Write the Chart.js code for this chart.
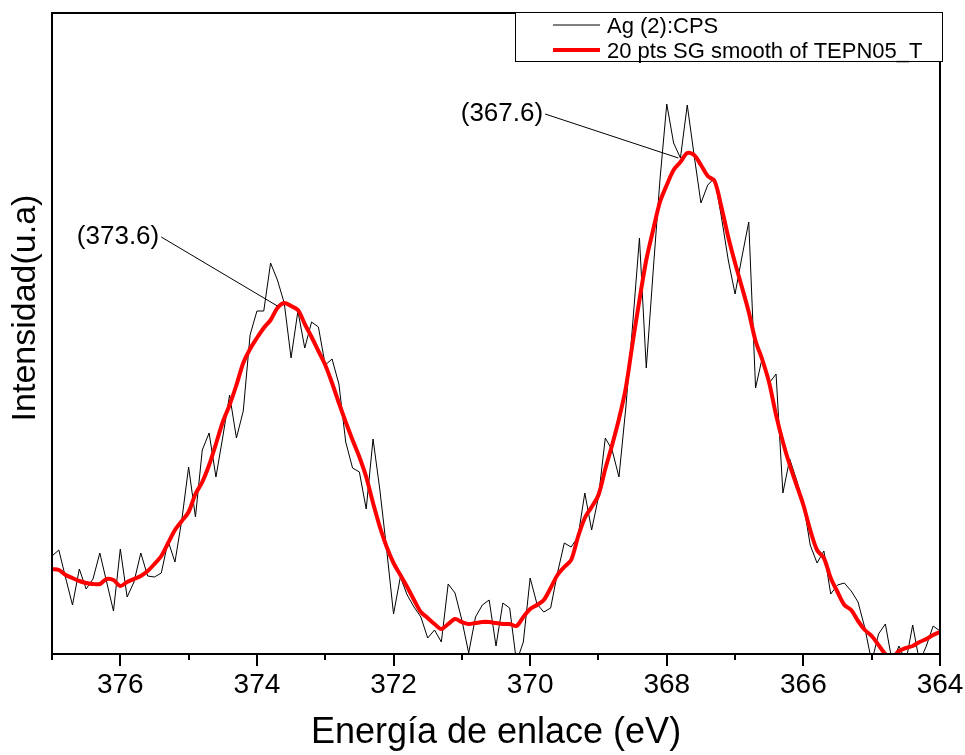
<!DOCTYPE html>
<html>
<head>
<meta charset="utf-8">
<script src="https://cdn.jsdelivr.net/npm/chart.js@4.4.1/dist/chart.umd.min.js"></script>
<style>
  html, body { margin: 0; padding: 0; background: #fff; }
</style>
</head>
<body>
<canvas id="grafico" width="965" height="755"></canvas>
<script>
// energia de enlace (eV), paso 0.1
var energia = [
  377.0, 376.9, 376.8, 376.7, 376.6, 376.5, 376.4, 376.3, 376.2, 376.1,
  376.0, 375.9, 375.8, 375.7, 375.6, 375.5, 375.4, 375.3, 375.2, 375.1,
  375.0, 374.9, 374.8, 374.7, 374.6, 374.5, 374.4, 374.3, 374.2, 374.1,
  374.0, 373.9, 373.8, 373.7, 373.6, 373.5, 373.4, 373.3, 373.2, 373.1,
  373.0, 372.9, 372.8, 372.7, 372.6, 372.5, 372.4, 372.3, 372.2, 372.1,
  372.0, 371.9, 371.8, 371.7, 371.6, 371.5, 371.4, 371.3, 371.2, 371.1,
  371.0, 370.9, 370.8, 370.7, 370.6, 370.5, 370.4, 370.3, 370.2, 370.1,
  370.0, 369.9, 369.8, 369.7, 369.6, 369.5, 369.4, 369.3, 369.2, 369.1,
  369.0, 368.9, 368.8, 368.7, 368.6, 368.5, 368.4, 368.3, 368.2, 368.1,
  368.0, 367.9, 367.8, 367.7, 367.6, 367.5, 367.4, 367.3, 367.2, 367.1,
  367.0, 366.9, 366.8, 366.7, 366.6, 366.5, 366.4, 366.3, 366.2, 366.1,
  366.0, 365.9, 365.8, 365.7, 365.6, 365.5, 365.4, 365.3, 365.2, 365.1,
  365.0, 364.9, 364.8, 364.7, 364.6, 364.5, 364.4, 364.3, 364.2, 364.1,
  364.0
];

// Ag (2):CPS (u.a.)
var cps = [
   98, 104,  76,  49,  85,  65,  75, 101,  72,  43,
  105,  57,  72, 101,  78,  77,  81, 113,  92, 134,
  187, 137, 204, 221, 177, 217, 259, 216, 243, 319,
  343, 343, 391, 374, 351, 296, 343, 306, 332, 327,
  289, 295, 270, 212, 186, 182, 145, 215, 164, 104,
   40,  77,  59,  47,  37,  16,  24,  12,  70,  61,
   34,   1,  37,  49,  54,   8,  51,  46,  -8,  12,
   76,  50,  42,  46,  81, 111, 107, 117, 161, 124,
  157, 216, 204, 177, 246, 329, 416, 286, 382, 474,
  550, 511, 496, 549, 499, 451, 469, 476, 437, 394,
  360, 397, 432, 266, 297, 271, 280, 161, 195, 174,
  151, 109,  91, 103,  60,  69,  71,  63,  52,  26,
   -8,  20,  30,  -8,   8,  -8,  29,  -8,   8,  28,
   23
];

// 20 pts SG smooth
var suavizado = [
   85,  84,  79,  76,  73,  71,  70,  70,  75,  74,
   68,  72,  75,  78,  83,  90,  98, 111, 124, 133,
  142, 160, 172, 189, 210, 232, 249, 269, 291, 305,
  316, 326, 334, 346, 351, 348, 344, 330, 317, 303,
  289, 271, 251, 232, 214, 197, 177, 151, 127, 107,
   91,  79,  67,  54,  42,  36,  30,  25,  30,  35,
   32,  30,  31,  32,  32,  31,  30,  30,  28,  37,
   45,  49,  54,  66,  79,  87,  94, 117, 136, 147,
  159, 185, 209, 235, 266, 311, 354, 394, 424, 452,
  469, 484, 492, 501, 499, 489, 478, 473, 447, 417,
  391, 367, 342, 313, 294, 271, 239, 212, 189, 169,
  149, 124, 104,  96,  76,  62,  49,  44,  33,  24,
   18,   9,   0,  -3,   3,   6,   8,  12,  15,  19,
   22
];

var ticksEnergia = [376, 374, 372, 370, 368, 366, 364];

// etiquetas de los picos
var picosTexto = ['(373.6)', '(367.6)'];
var picosTextoE = [375.43, 369.81];
var picosTextoY = [417, 540];
var picosE = [373.70, 367.83];
var picosY = [348, 496];

var fuente = "'Liberation Sans', Arial, sans-serif";

function puntos(ys) {
  return energia.map(function (e, i) { return { x: e, y: ys[i] }; });
}

var marco = {
  id: 'marco',
  afterDatasetsDraw: function (chart) {
    var ctx = chart.ctx;
    var a = chart.chartArea;
    var sx = chart.scales.x, sy = chart.scales.y;
    ctx.save();
    ctx.strokeStyle = '#000';
    ctx.lineWidth = 2;
    ctx.beginPath();
    ctx.rect(a.left, a.top, a.right - a.left, a.bottom - a.top);
    ctx.stroke();
    // ticks mayores y menores
    for (var v = 364; v <= 377; v++) {
      var px = Math.round(sx.getPixelForValue(v));
      var largo = (v % 2 === 0) ? 12 : 6;
      ctx.beginPath();
      ctx.moveTo(px, a.bottom);
      ctx.lineTo(px, a.bottom + largo);
      ctx.stroke();
    }
    // anotaciones
    ctx.lineWidth = 1;
    ctx.fillStyle = '#000';
    ctx.font = '26px ' + fuente;
    ctx.textAlign = 'right';
    ctx.textBaseline = 'middle';
    for (var i = 0; i < picosTexto.length; i++) {
      var tx = sx.getPixelForValue(picosTextoE[i]);
      var ty = sy.getPixelForValue(picosTextoY[i]);
      ctx.fillText(picosTexto[i], tx, ty);
      ctx.beginPath();
      ctx.moveTo(tx + 2, ty);
      ctx.lineTo(sx.getPixelForValue(picosE[i]), sy.getPixelForValue(picosY[i]));
      ctx.stroke();
    }
    // titulo eje y
    ctx.font = '34px ' + fuente;
    ctx.textAlign = 'center';
    ctx.translate(26, 308);
    ctx.rotate(-Math.PI / 2);
    ctx.fillText('Intensidad(u.a)', 0, 0);
    ctx.restore();
  },
  afterDraw: function (chart) {
    // leyenda
    var ctx = chart.ctx;
    var a = chart.chartArea;
    var x0 = a.right - 425, y0 = a.top - 1, w = 427, h = 49;
    ctx.save();
    ctx.fillStyle = '#fff';
    ctx.fillRect(x0, y0, w, h);
    ctx.strokeStyle = '#000';
    ctx.lineWidth = 1;
    ctx.strokeRect(x0 + 0.5, y0 + 0.5, w, h);
    ctx.font = '22px ' + fuente;
    ctx.textAlign = 'left';
    ctx.textBaseline = 'middle';
    chart.data.datasets.forEach(function (ds, i) {
      var yy = y0 + 13 + i * 25;
      ctx.strokeStyle = ds.borderColor;
      ctx.lineWidth = ds.borderWidth;
      ctx.beginPath();
      ctx.moveTo(x0 + 38, yy);
      ctx.lineTo(x0 + 85, yy);
      ctx.stroke();
      ctx.fillStyle = '#000';
      ctx.fillText(ds.label, x0 + 92, yy + 2);
    });
    ctx.restore();
  }
};

var grafico = new Chart(document.getElementById('grafico'), {
  type: 'line',
  data: {
    datasets: [{
      label: 'Ag (2):CPS',
      data: puntos(cps),
      borderColor: '#000000',
      borderWidth: 1,
      pointRadius: 0,
      tension: 0,
      order: 1
    }, {
      label: '20 pts SG smooth of TEPN05_T',
      data: puntos(suavizado),
      borderColor: '#ff0000',
      borderWidth: 4,
      pointRadius: 0,
      tension: 0.3,
      order: 0
    }]
  },
  options: {
    responsive: false,
    animation: false,
    layout: { padding: { left: 52, right: 25, top: 13, bottom: 0 } },
    plugins: { legend: { display: false }, tooltip: { enabled: false } },
    scales: {
      x: {
        type: 'linear',
        reverse: true,
        min: 364,
        max: 377,
        grid: { display: false, drawTicks: false },
        border: { display: false },
        ticks: {
          stepSize: 1,
          autoSkip: false,
          maxRotation: 0,
          padding: 14,
          color: '#000',
          font: { family: fuente, size: 28 },
          callback: function (v) { return ticksEnergia.indexOf(v) >= 0 ? String(v) : ''; }
        },
        title: {
          display: true,
          text: 'Energía de enlace (eV)',
          color: '#000',
          font: { family: fuente, size: 36 },
          padding: 0
        },
        afterFit: function (s) {
          s.height = 101;
          s.paddingLeft = 0;
          s.paddingRight = 0;
        }
      },
      y: {
        display: false,
        min: 0,
        max: 641
      }
    }
  },
  plugins: [marco]
});
</script>
</body>
</html>
